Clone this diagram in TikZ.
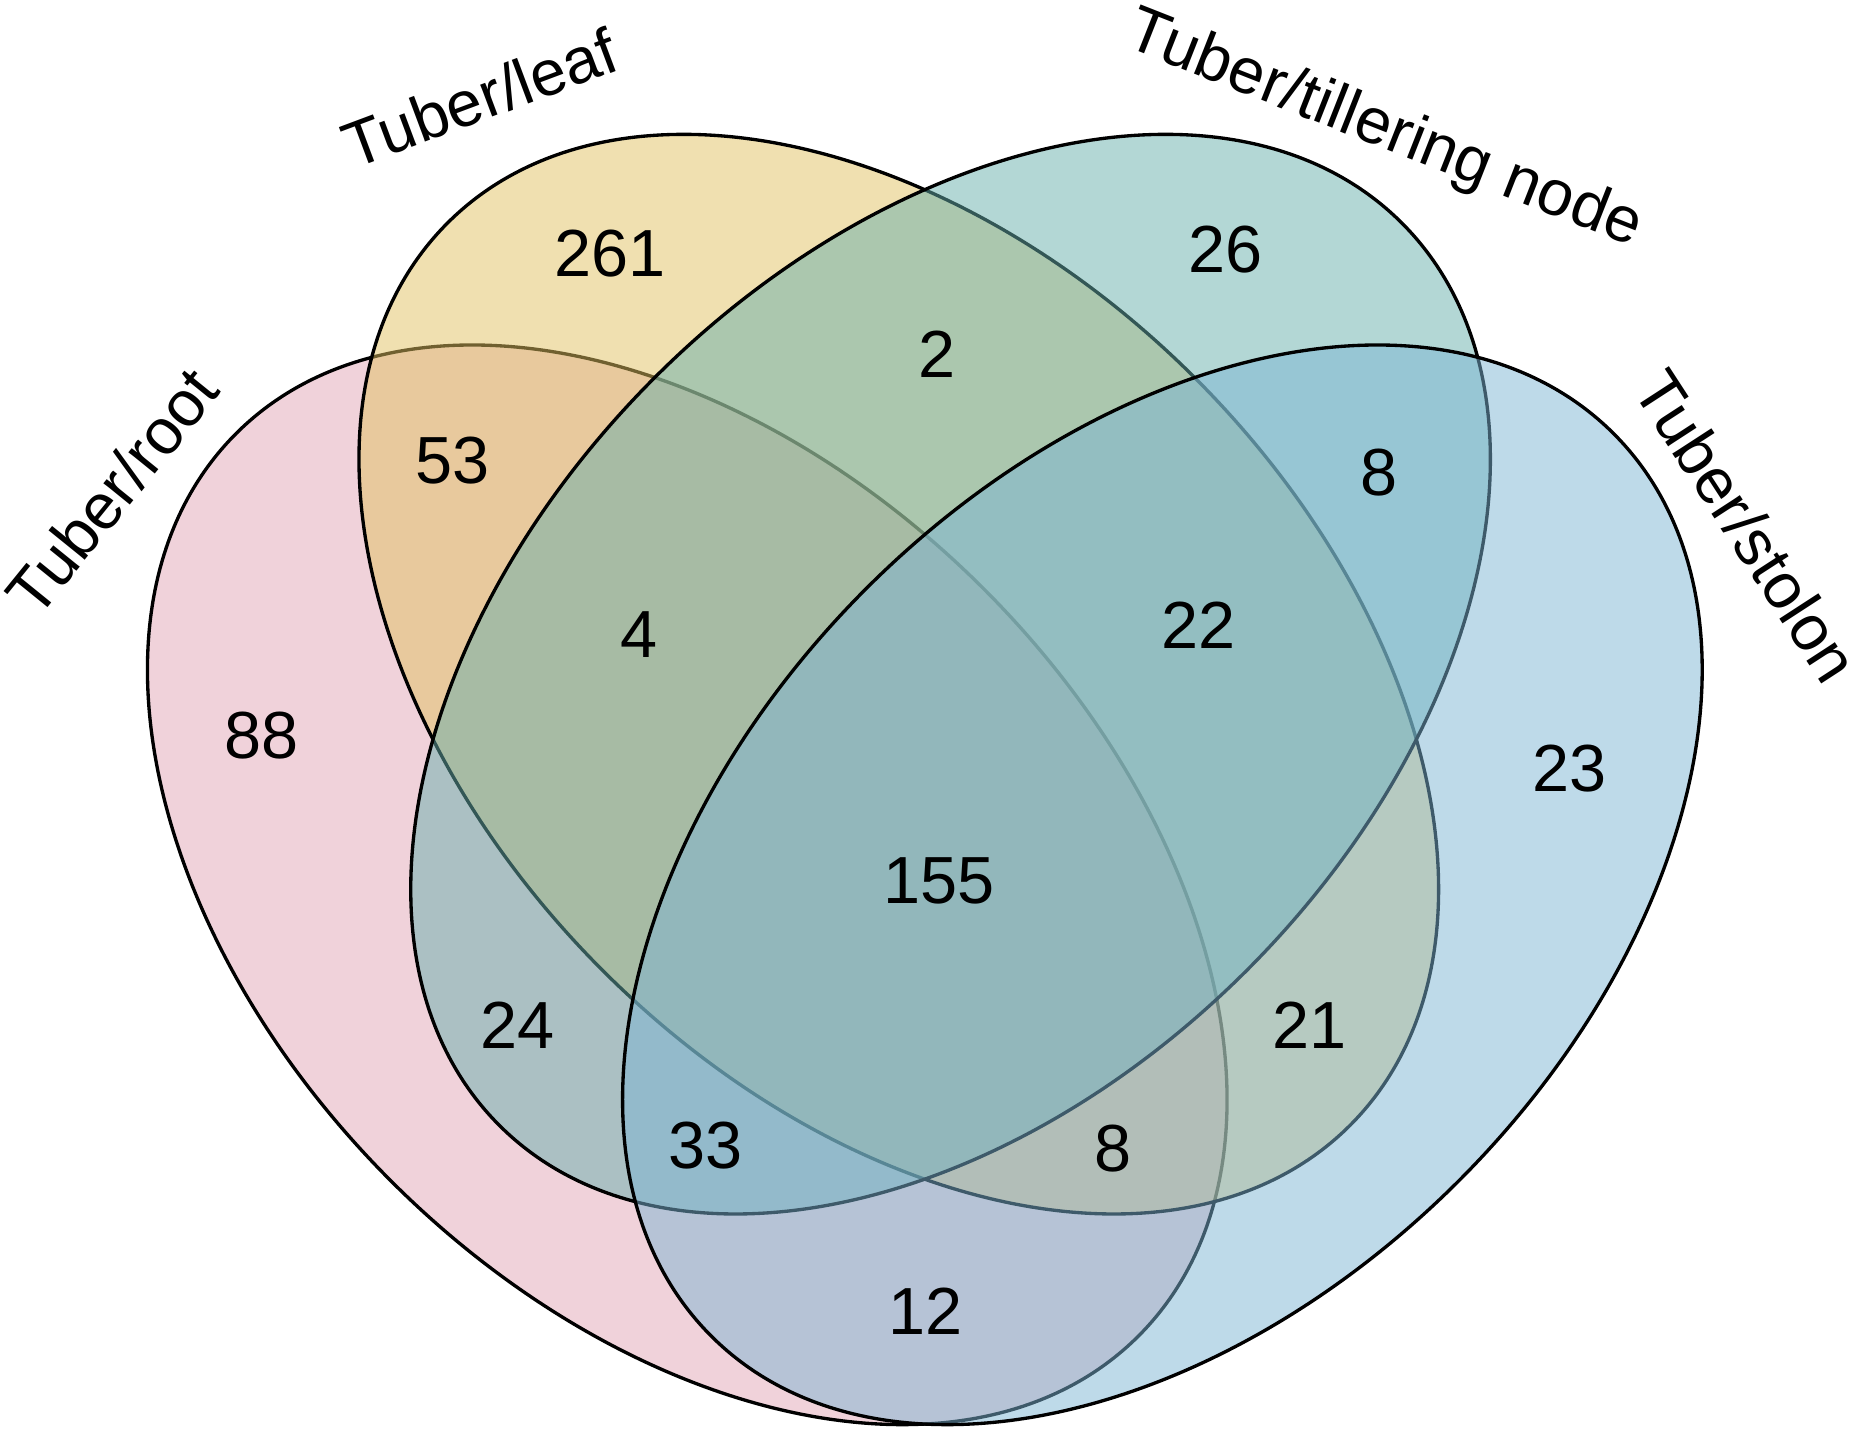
\documentclass[tikz,border=0pt]{standalone}
\usepackage{fontspec}
\setmainfont{Liberation Sans}
\definecolor{cRoot}{RGB}{225,165,181}
\definecolor{cLeaf}{RGB}{225,193,97}
\definecolor{cTill}{RGB}{103,175,172}
\definecolor{cStol}{RGB}{125,181,212}
\begin{document}
\begin{tikzpicture}[x=0.5pt,y=-0.5pt,
  setshape/.style={draw=black,line width=1.4pt,fill opacity=0.5},
  num/.style={inner sep=0pt,font=\fontsize{28}{32}\selectfont},
  setlabel/.style={inner sep=0pt,font=\fontsize{27}{31}\selectfont}]
\useasboundingbox (0,0) rectangle (1568,1208);
% ellipses
\begin{scope}[shift={(577.5,743.5)},rotate=-45]
  \path[setshape,fill=cRoot] (0,0) ellipse [x radius=268.1pt, y radius=176pt];
\end{scope}
\begin{scope}[shift={(755.25,566.5)},rotate=-45]
  \path[setshape,fill=cLeaf] (0,0) ellipse [x radius=268.1pt, y radius=176pt];
\end{scope}
\begin{scope}[shift={(798.75,566.5)},rotate=45]
  \path[setshape,fill=cTill] (0,0) ellipse [x radius=268.1pt, y radius=176pt];
\end{scope}
\begin{scope}[shift={(976.75,743.5)},rotate=45]
  \path[setshape,fill=cStol] (0,0) ellipse [x radius=268.1pt, y radius=176pt];
\end{scope}
% set labels
\node[setlabel,rotate=51] (lroot) at (94,413) {Tuber/root};
\node[setlabel,rotate=20.5] (lleaf) at (403,82) {Tuber/leaf};
\node[setlabel,rotate=-21.5] (ltill) at (1163,110) {Tuber/tillering node};
\node[setlabel,rotate=-57] (lstol) at (1468,442) {Tuber/stolon};
% counts
\node[num] (n261) at (512.5,213) {261};
\node[num] (n26) at (1030,209.5) {26};
\node[num] (n2) at (787,297.5) {2};
\node[num] (n53) at (380,387) {53};
\node[num] (n8a) at (1159,397.5) {8};
\node[num] (n4) at (537,533.5) {4};
\node[num] (n22) at (1007,525) {22};
\node[num] (n88) at (220,618) {88};
\node[num] (n23) at (1319,645.5) {23};
\node[num] (n155) at (789,740) {155};
\node[num] (n24) at (435,861.5) {24};
\node[num] (n21) at (1100.5,861.5) {21};
\node[num] (n33) at (592.5,963) {33};
\node[num] (n8b) at (935,965) {8};
\node[num] (n12) at (778,1102) {12};
\end{tikzpicture}
\end{document}
